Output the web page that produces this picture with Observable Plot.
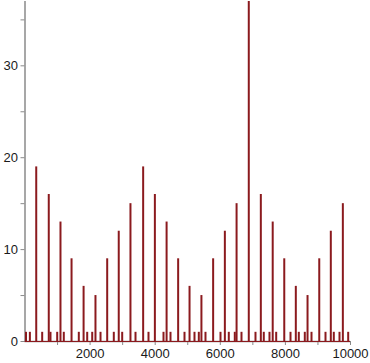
<!DOCTYPE html>
<html>
<head>
<meta charset="utf-8">
<script src="https://cdn.jsdelivr.net/npm/d3@7"></script>
<script src="https://cdn.jsdelivr.net/npm/@observablehq/plot@0.6"></script>
<style>
  html, body { margin: 0; padding: 0; background: #fff; }
</style>
</head>
<body>
<div id="chart"></div>
<script>
// Major peaks: position and height
const peakX = [345, 730, 1090, 1430, 1800, 2165, 2525, 2880, 3240, 3630, 3990, 4350, 4705,
               5055, 5420, 5780, 6140, 6500, 6875, 7245, 7610, 7965, 8320, 8680, 9040, 9395, 9765];
const peakY = [19, 16, 13, 9, 6, 5, 9, 12, 15, 19, 16, 13, 9,
               6, 5, 9, 12, 15, 37, 16, 13, 9, 6, 5, 9, 12, 15];
// Small spikes near the baseline
const minorX = [30, 150, 528, 783, 989, 1192, 1653, 1911, 2065, 2320, 2728, 2986, 3395, 3794,
                4255, 4470, 4900, 5207, 5340, 5545, 6006, 6261, 6445, 6651, 7081, 7336, 7511,
                7717, 8157, 8412, 8596, 8802, 9232, 9487, 9662, 9929];
const minorY = [1, 1, 1, 1, 1, 1, 1, 1, 1, 1, 1, 1, 1, 1,
                1, 1, 1, 1, 1, 1, 1, 1, 1, 1, 1, 1, 1,
                1, 1, 1, 1, 1, 1, 1, 1, 1];
// Tick values
const xTicks = [1000, 2000, 3000, 4000, 5000, 6000, 7000, 8000, 9000, 10000];
const xLabels = [2000, 4000, 6000, 8000, 10000];
const yTicks = [0, 5, 10, 15, 20, 25, 30, 35];
const yLabels = [0, 10, 20, 30];

const peaks = peakX.map((x, i) => ({x, y: peakY[i]}));
const minors = minorX.map((x, i) => ({x, y: minorY[i]}));

const red = "#8b1a1e";
const axisGray = "#8a8a8a";

const chart = Plot.plot({
  width: 370,
  height: 363,
  marginLeft: 24.5,
  marginRight: 20,
  marginTop: 1,
  marginBottom: 22,
  style: {fontFamily: "'Liberation Sans', Arial, Helvetica, sans-serif", fontSize: "13px", color: "#1a1a1a", background: "#fff"},
  x: {domain: [0, 10000], label: null},
  y: {domain: [0, 37], label: null},
  marks: [
    Plot.axisX(xTicks, {tickSize: 4, tickPadding: 3, stroke: axisGray, fill: "#1a1a1a", label: null,
      tickFormat: d => xLabels.includes(d) ? String(d) : ""}),
    Plot.axisY(yTicks, {tickSize: 4, tickPadding: 3, stroke: axisGray, fill: "#1a1a1a", label: null,
      tickFormat: d => yLabels.includes(d) ? String(d) : ""}),
    Plot.ruleX([0], {stroke: axisGray, strokeWidth: 1.5}),
    Plot.ruleY([0], {stroke: axisGray, strokeWidth: 1.5}),
    Plot.ruleX(minors, {x: "x", y1: 0, y2: "y", stroke: red, strokeWidth: 2}),
    Plot.ruleX(peaks, {x: "x", y1: 0, y2: "y", stroke: red, strokeWidth: 2}),
    Plot.ruleY([0], {x1: 0, x2: 10000, stroke: red, strokeWidth: 1})
  ]
});
document.getElementById("chart").appendChild(chart);
</script>
</body>
</html>
